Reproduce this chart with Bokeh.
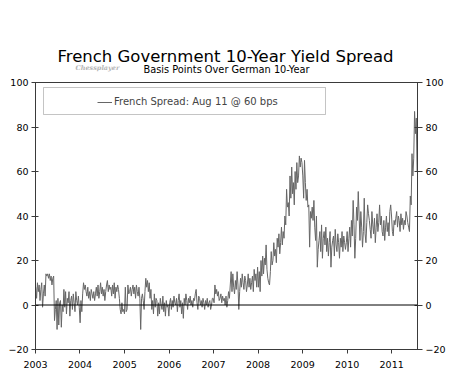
import pandas as pd
from bokeh.plotting import figure
from bokeh.layouts import column
from bokeh.models import (Range1d, LinearAxis, FixedTicker, Span, Label, Legend,
                          LegendItem, BoxAnnotation, DatetimeTickFormatter)
from bokeh.embed import file_html
from bokeh.resources import INLINE

# Weekly French-German 10y spread (bps)
y2003 = [8, 3, 10, 6, 9, 2, 7, 10, -1, 5, 9, 4, 14, 13, 14, 12, 14, 11, 13, 9,
         12, 13, -7, -2, 2, -11, 3, -9, 1, 2, -10, 0, -3, 7, -1, 6, -4, 3, 1, 6,
         -5, 2, 4, -2, 5, 1, -3, 6, 2, 0, 4, -1]
y2004 = [-8, 2, -3, 5, 10, 7, 9, 6, 4, 8, 3, 6, 2, 7, 5, 3, 6, 2, 5, 8,
         4, 9, 3, 6, 10, 5, 8, 4, 7, 2, 6, 9, 11, 6, 9, 7, 8, 4, 9, 5,
         10, 3, 8, 6, 9, 7, 3, -2, -4, 1, -3, -2]
y2005 = [-4, 8, -3, -2, 9, 5, 6, 8, 4, 7, 9, 5, 8, 3, 9, 6, 4, 8, 3, -11,
         3, 5, 2, -2, 6, 12, 8, 11, 6, 10, 3, 7, -2, 2, -4, 5, -1, 3, 2, -5,
         1, -4, 3, 0, -2, 4, -3, 1, -5, 2, -1, 0]
y2006 = [-5, 1, 3, -2, 2, -1, 4, 1, 0, 3, -3, 2, 5, -1, 2, -4, 1, -6, 3, 0,
         5, 2, -2, 3, 1, 4, 0, 2, -1, 3, 2, 5, 7, 1, -2, 4, 3, 0, 2, -1,
         3, 1, -2, 2, 0, 3, -1, 1, 2, -2, 0, 3]
y2007 = [3, 1, 9, 5, 7, 4, 6, 2, 3, 5, 1, 4, 2, 3, 0, 4, -1, 2, 6, 3,
         9, 15, 6, 14, 8, 5, 11, 7, 15, 9, -2, 6, 12, 8, 14, 10, 7, 13, 11, 6,
         9, 14, 8, 12, 7, 10, 13, 6, 16, 11, 14, 8]
y2008 = [17, 8, 15, 6, 20, 13, 22, 14, 21, 18, 27, 16, 12, 10, 9, 15, 24, 18, 20, 28,
         22, 25, 19, 30, 26, 32, 23, 28, 35, 27, 33, 30, 40, 36, 52, 44, 46, 40, 58, 48,
         62, 50, 55, 45, 60, 52, 64, 55, 58, 67, 62, 66]
y2009 = [64, 58, 48, 65, 55, 47, 52, 44, 45, 26, 42, 39, 44, 38, 47, 35, 29, 40, 17, 25,
         29, 33, 24, 36, 21, 30, 33, 27, 35, 24, 30, 22, 28, 33, 17, 26, 29, 31, 22, 34,
         27, 24, 32, 28, 21, 30, 26, 33, 24, 31, 28, 25]
y2010 = [28, 33, 24, 30, 35, 26, 38, 31, 47, 36, 21, 30, 44, 38, 51, 40, 29, 42, 35, 26,
         33, 48, 32, 28, 37, 45, 41, 38, 34, 30, 42, 36, 32, 39, 28, 35, 41, 33, 37, 45,
         36, 40, 33, 31, 38, 29, 35, 40, 33, 37, 31, 42]
y2011 = [45, 40, 33, 31, 38, 36, 39, 42, 35, 40, 38, 33, 41, 36, 39, 34, 38, 36, 42, 40,
         37, 35, 33, 49, 45, 68, 58, 66, 87, 77, 84, 60]

spread = y2003 + y2004 + y2005 + y2006 + y2007 + y2008 + y2009 + y2010 + y2011
dates = pd.date_range("2003-01-03", periods=len(spread), freq="7D")

tick_years = [2003, 2004, 2005, 2006, 2007, 2008, 2009, 2010, 2011]
y_ticks = [-20, 0, 20, 40, 60, 80, 100]

title_text = "French Government 10-Year Yield Spread"
subtitle_text = "Basis Points Over German 10-Year"
watermark_text = "Chessplayer"
legend_text = "French Spread: Aug 11 @ 60 bps"

FONT = "DejaVu Sans"
AX = "#3a3a3a"
W = 450
TOP_H = 76

# ---- heading strip (titles) ----
head = figure(width=W, height=TOP_H, output_backend="svg", toolbar_location=None,
              min_border=0, x_range=Range1d(0, W), y_range=Range1d(0, TOP_H))
head.axis.visible = False
head.grid.visible = False
head.outline_line_color = None
head.background_fill_color = "white"
head.border_fill_color = "white"
head.add_layout(Label(x=190, y=20, x_units="screen", y_units="screen", text=title_text,
                      text_font=FONT, text_font_size="16.5px", text_align="center",
                      text_baseline="alphabetic", text_color="black"))
head.add_layout(Label(x=191, y=7, x_units="screen", y_units="screen", text=subtitle_text,
                      text_font=FONT, text_font_size="9.8px", text_align="center",
                      text_baseline="alphabetic", text_color="black"))
head.add_layout(Label(x=40, y=9, x_units="screen", y_units="screen", text=watermark_text,
                      text_font="DejaVu Serif", text_font_size="6.5px",
                      text_font_style="bold italic", text_align="left",
                      text_baseline="alphabetic", text_color="#b5b5b5"))

# ---- chart ----
p = figure(width=W, height=379 - TOP_H, output_backend="svg", toolbar_location=None,
           x_axis_type="datetime",
           min_border_left=35, min_border_right=33, min_border_top=82 - TOP_H,
           min_border_bottom=30)
p.x_range = Range1d(pd.Timestamp("2003-01-01"), dates[-1] + pd.Timedelta(days=3))
p.y_range = Range1d(-20, 100)
p.xgrid.visible = False
p.ygrid.visible = False
p.outline_line_color = AX
p.outline_line_width = 1
p.background_fill_color = "white"
p.border_fill_color = "white"

r = p.line(dates, spread, line_color="#666666", line_width=1)

p.add_layout(Span(location=0, dimension="width", line_color="black", line_width=1))

tick_ms = [pd.Timestamp(f"{y}-01-01").value // 10**6 for y in tick_years]
xa = p.xaxis[0]
xa.ticker = FixedTicker(ticks=tick_ms)
xa.formatter = DatetimeTickFormatter(years="%Y", months="%Y", days="%Y", hours="%Y",
                                     hourmin="%Y", minutes="%Y", minsec="%Y",
                                     seconds="%Y", milliseconds="%Y", microseconds="%Y")
xa.minor_tick_line_color = None
xa.major_tick_in = 0
xa.major_tick_out = 4
xa.major_label_standoff = 7

ya = p.yaxis[0]
ya.ticker = FixedTicker(ticks=y_ticks)
ya.minor_tick_line_color = None
ya.major_tick_in = 3
ya.major_tick_out = 4
ya.major_label_standoff = 3

ra = LinearAxis(ticker=FixedTicker(ticks=y_ticks))
ra.minor_tick_line_color = None
ra.major_tick_in = 3
ra.major_tick_out = 5
ra.major_label_standoff = 3
p.add_layout(ra, "right")

for ax in [xa, ya, ra]:
    ax.axis_line_color = AX
    ax.major_tick_line_color = AX
    ax.major_label_text_font = FONT
    ax.major_label_text_font_size = "9.5px"
    ax.major_label_text_color = "black"

p.add_layout(BoxAnnotation(left=8, right=290, bottom=235, top=262,
                           left_units="screen", right_units="screen",
                           bottom_units="screen", top_units="screen",
                           fill_alpha=0, line_color=AX, line_width=1))

legend = Legend(items=[LegendItem(label=legend_text, renderers=[r])],
                location=(57, 237), border_line_alpha=0, background_fill_alpha=0,
                padding=5, glyph_width=15, glyph_height=10, label_standoff=2,
                label_text_font=FONT, label_text_font_size="10px", margin=0)
p.add_layout(legend)

layout = column(head, p, spacing=0)
open("out.html", "w").write(file_html(layout, INLINE))
